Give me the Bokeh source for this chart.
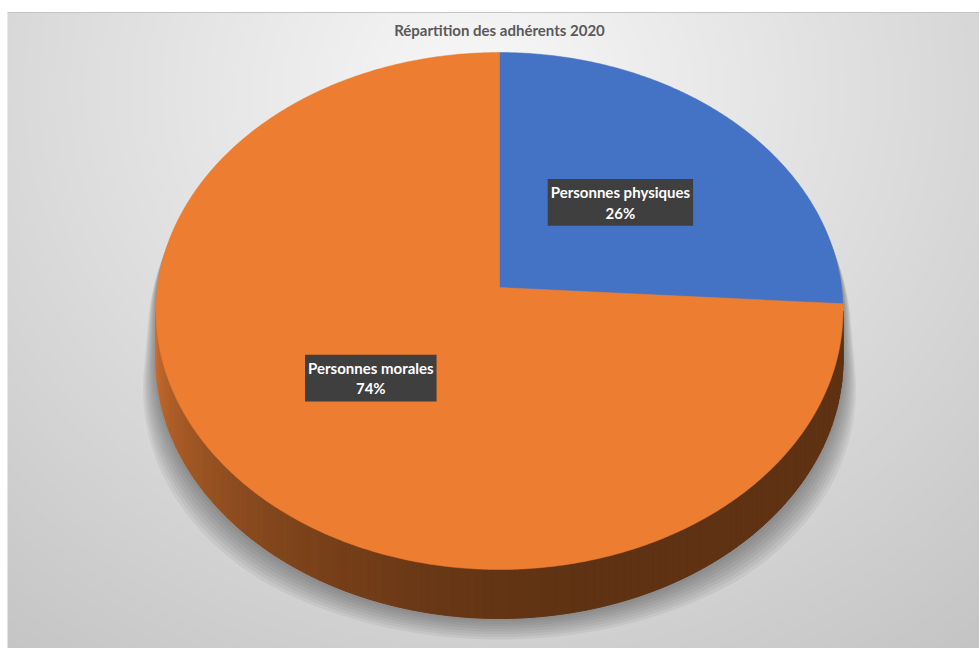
import numpy as np
from bokeh.plotting import figure
from bokeh.models import Range1d
from bokeh.core.properties import value
from bokeh.embed import file_html
from bokeh.resources import INLINE

# ---------------- data ----------------
title_text = "Répartition des adhérents 2020"
categories = ["Personnes physiques", "Personnes morales"]
values = [26, 74]
slice_colors = ["#4472C4", "#ED7D31"]

# ---------------- layout (screen pixels of the page) ----------------
W, H = 979, 648
OX, OY = 0, 0


def X(x):
    return np.asarray(x, dtype=float) - OX


def Y(y):
    return (OY + H) - np.asarray(y, dtype=float)


p = figure(width=W, height=H, output_backend="svg", toolbar_location=None,
           x_range=Range1d(0, W), y_range=Range1d(0, H), min_border=0,
           x_axis_location=None, y_axis_location=None)
p.grid.visible = False
p.outline_line_color = None
p.background_fill_color = "white"
p.border_fill_color = "white"

# ---------------- background radial gradient ----------------
AREA_L, AREA_R, AREA_T, AREA_B = 7, 979, 12, 648
cols = AREA_R - AREA_L
rows = AREA_B - AREA_T
xs = np.arange(cols) + AREA_L + 0.5
ys = AREA_B - (np.arange(rows) + 0.5)
GX, GY = np.meshgrid(xs, ys)
r = np.sqrt(((GX - 480) / 700.0) ** 2 + ((GY - 90) / 640.0) ** 2)
g = np.clip(248 - 46 * r, 0, 255).astype(np.uint32)
img = (255 << 24) | (g << 16) | (g << 8) | g
p.image_rgba(image=[img.astype(np.uint32)], x=float(X(AREA_L)), y=float(Y(AREA_B)),
             dw=cols, dh=rows)
p.line(X([AREA_L, AREA_R]), Y([AREA_T, AREA_T]), line_color="#c4c4c4", line_width=1)

# ---------------- 3D pie geometry (perspective) ----------------
CX, CY = 499.0, 287.0      # pie centre on screen
TOP, BOT = 52.0, 569.0     # back and front of top face
HALF_W = 343.5             # max half width
DEPTH = 49.0               # thickness of the side

# y(v) = (CY + B v)/(1 + K v) with y(-1)=TOP, y(1)=BOT
K = (2 * CY - TOP - BOT) / (BOT - TOP)
B = BOT * (1 + K) - CY
vmax = -K
A = HALF_W / (np.sqrt(1 - vmax ** 2) / (1 + K * vmax))


def proj(theta_deg, f=1.0):
    t = np.radians(theta_deg)
    u = f * np.sin(t)
    v = -f * np.cos(t)
    w = 1 + K * v
    return CX + A * u / w, (CY + B * v) / w


total = float(sum(values))
starts, ends = [], []
acc = 0.0
for v_ in values:
    starts.append(acc / total * 360.0)
    acc += v_
    ends.append(acc / total * 360.0)

theta_R = np.degrees(np.arccos(K))        # right tangent (v = -K)
theta_L = 360.0 - theta_R                  # left tangent

# silhouette of the whole solid (for the shadow)
th_back = np.linspace(theta_L, 360 + theta_R, 200)
th_front = np.linspace(theta_R, theta_L, 200)
bx, by = proj(th_back)
fx, fy = proj(th_front)
sil_x = np.concatenate([bx, fx])
sil_y = np.concatenate([by, fy + DEPTH])

# soft shadow: stretched silhouette layers
sh_xs, sh_ys = [], []
for k in range(8):
    s = (8 - k) / 8.0
    t = np.clip((sil_y - 230) / 330.0, 0, 1)
    xx = CX + (sil_x - CX) * (1 + 0.09 * s * t)
    yy = sil_y + 18 * s * t + 3 * s
    sh_xs.append(X(xx))
    sh_ys.append(Y(yy))
p.patches(sh_xs, sh_ys, fill_color="#404040", fill_alpha=0.075, line_color=None)

# side strips with shading
n_strips = 140
edges = np.linspace(theta_R, theta_L, n_strips + 1)
side_xs, side_ys, side_cols = [], [], []
dark = np.array([94, 50, 19])
light = np.array([206, 112, 48])
for i in range(n_strips):
    a0, a1 = edges[i], edges[i + 1]
    x0, y0 = proj(a0)
    x1, y1 = proj(a1)
    side_xs.append(X([x0, x1, x1, x0]))
    side_ys.append(Y([y0, y1, y1 + DEPTH, y0 + DEPTH]))
    tt = ((a0 + a1) / 2 - theta_R) / (theta_L - theta_R)
    m = np.clip((tt - 0.35) / 0.65, 0, 1) ** 2.0
    c = (dark * (1 - m) + light * m).astype(int)
    side_cols.append("#%02x%02x%02x" % tuple(c))
p.patches(side_xs, side_ys, fill_color=side_cols, line_color=side_cols, line_width=1)

# top faces
wx, wy = [], []
for s0, s1 in zip(starts, ends):
    th = np.linspace(s0, s1, max(int((s1 - s0) * 2), 8))
    ax, ay = proj(th)
    wx.append(X(np.concatenate([[CX], ax])))
    wy.append(Y(np.concatenate([[CY], ay])))
p.patches(wx, wy, fill_color=slice_colors, line_color=slice_colors, line_width=0.5)

# ---------------- data labels ----------------
lab_x, lab_y, lab_t = [], [], []
for cat, v_, s0, s1 in zip(categories, values, starts, ends):
    lx, ly = proj((s0 + s1) / 2, 0.5)
    lab_x.append(float(X(lx)))
    lab_y.append(float(Y(ly)))
    lab_t.append(f"{cat}\n{round(v_ / total * 100)}%")
p.text(x=lab_x, y=lab_y, text=lab_t, text_font=value("Lato"), text_font_style="bold",
       text_font_size="15px", text_color="white", text_align="center",
       text_baseline="middle", text_line_height=1.15,
       background_fill_color="#3f3f3f", background_fill_alpha=1.0,
       padding=(3, 4))

# ---------------- title ----------------
p.text(x=[float(X(CX))], y=[float(Y(29))], text=[title_text], text_font=value("Lato"),
       text_font_style="bold", text_font_size="15px", text_color="#595959",
       text_align="center", text_baseline="middle")

open("out.html", "w").write(file_html(p, INLINE))
